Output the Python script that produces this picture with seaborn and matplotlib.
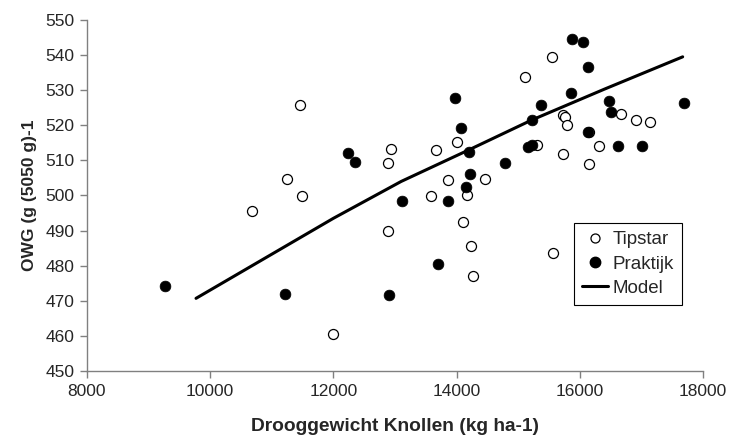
import matplotlib
matplotlib.use("Agg")
import matplotlib.pyplot as plt
import seaborn as sns
import pandas as pd
from matplotlib.lines import Line2D

# Tipstar (open circles)
tip_x = [11458, 12930, 12891, 11242, 11495, 10673, 11994, 12880, 15554, 15110,
         16669, 16912, 17140, 15732, 15760, 15797, 14001, 13661, 16155, 16305,
         15300, 15722, 16149, 14461, 13855, 13584, 14174, 14099, 14229, 14266,
         15570]
tip_y = [525.8, 513.2, 509.3, 504.7, 499.9, 495.7, 460.4, 490.0, 539.4, 533.8,
         523.3, 521.5, 521.0, 522.8, 522.3, 520.1, 515.2, 512.9, 518.0, 514.1,
         514.5, 511.7, 509.1, 504.6, 504.3, 499.9, 500.1, 492.5, 485.6, 477.2,
         483.5]

# Praktijk (filled circles)
prak_x = [12232, 12356, 13119, 9261, 11214, 12903, 15873, 16052, 16140, 15851,
          16479, 17692, 15378, 16501, 15224, 13974, 14066, 14206, 16140, 16625,
          17015, 15167, 15232, 14786, 14222, 14157, 13866, 13693]
prak_y = [512.0, 509.5, 498.4, 474.1, 471.9, 471.7, 544.6, 543.6, 536.5, 529.1,
          527.0, 526.3, 525.7, 523.8, 521.5, 527.9, 519.1, 512.3, 518.0, 514.1,
          514.1, 513.7, 514.3, 509.3, 506.1, 502.5, 498.4, 480.5]

# Model curve
model_x = [9770, 12000, 13100, 14200, 15220, 16400, 17670]
model_y = [470.7, 493.5, 504.0, 513.0, 521.5, 530.3, 539.5]

x_ticks = [8000, 10000, 12000, 14000, 16000, 18000]
y_ticks = [450, 460, 470, 480, 490, 500, 510, 520, 530, 540, 550]

sns.set_style("white")
plt.rcParams['font.family'] = ['Liberation Sans', 'DejaVu Sans']

fig = plt.figure(figsize=(7.31, 4.44), dpi=100)
ax = fig.add_axes([0.119, 0.1644, 0.8427, 0.7906])

tip = pd.DataFrame({"x": tip_x, "y": tip_y})
prak = pd.DataFrame({"x": prak_x, "y": prak_y})
model = pd.DataFrame({"x": model_x, "y": model_y})

sns.lineplot(data=model, x="x", y="y", ax=ax, color="black", linewidth=2.2,
             sort=False, zorder=1)
sns.scatterplot(data=tip, x="x", y="y", ax=ax, marker="o", s=52,
                facecolor="white", edgecolor="black", linewidth=0.9, zorder=2)
sns.scatterplot(data=prak, x="x", y="y", ax=ax, marker="o", s=60,
                color="black", edgecolor="black", linewidth=0.5, zorder=3)

ax.set_xlim(8000, 18000)
ax.set_ylim(450, 550)
ax.set_xticks(x_ticks)
ax.set_yticks(y_ticks)
ax.set_xticklabels([str(v) for v in x_ticks], fontsize=12.5)
ax.set_yticklabels([str(v) for v in y_ticks], fontsize=12.5)
ax.set_xlabel("Drooggewicht Knollen (kg ha-1)", fontsize=13.8, fontweight="bold",
              labelpad=14)
ax.set_ylabel("OWG (g (5050 g)-1", fontsize=12.5, fontweight="bold", labelpad=6)

for s in ["top", "right"]:
    ax.spines[s].set_visible(False)
for s in ["left", "bottom"]:
    ax.spines[s].set_color("#808080")
    ax.spines[s].set_linewidth(1.0)
ax.tick_params(axis="both", which="major", direction="out", length=5,
               width=1.0, color="#808080", left=True, bottom=True, pad=4)

handles = [
    Line2D([], [], marker="o", linestyle="none", markerfacecolor="white",
           markeredgecolor="black", markersize=6.5, markeredgewidth=0.9),
    Line2D([], [], marker="o", linestyle="none", markerfacecolor="black",
           markeredgecolor="black", markersize=7.5),
    Line2D([], [], color="black", linewidth=2.2),
]
leg = ax.legend(handles, ["Tipstar", "Praktijk", "Model"], loc="upper right",
                bbox_to_anchor=(0.966, 0.422), fontsize=13.5, frameon=True,
                fancybox=False, framealpha=1, edgecolor="black",
                handlelength=1.4, handletextpad=0.2, borderpad=0.45,
                borderaxespad=0, labelspacing=0.38)
leg.get_frame().set_linewidth(0.8)

fig.savefig("out.png", dpi=100)
